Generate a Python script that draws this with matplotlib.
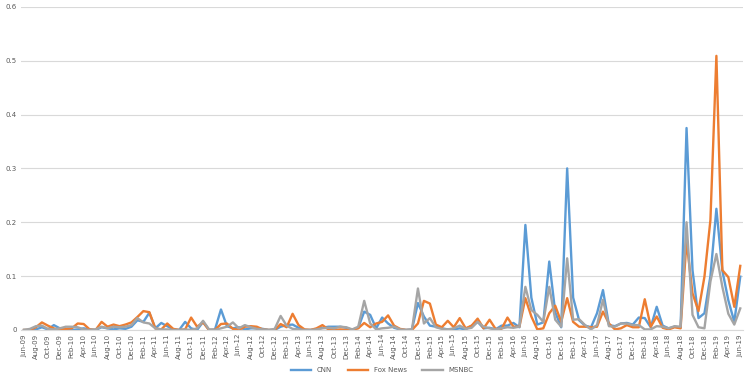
import matplotlib
matplotlib.use("Agg")
import matplotlib.pyplot as plt
import pandas as pd

# monthly share of coverage, Jun-09 .. Jun-19
months = pd.date_range("2009-06-01", periods=121, freq="MS").strftime("%b-%y").tolist()

cnn = [0, 0, 0.001, 0.005, 0.001, 0.009, 0.003, 0.001, 0, 0.001, 0.003, 0.001,
       0, 0.005, 0.003, 0.001, 0.003, 0.002, 0.006, 0.018, 0.015, 0.032, 0.003, 0.013,
       0.007, 0.001, 0, 0.015, 0.003, 0, 0.015, 0, 0.001, 0.038, 0.007, 0.003,
       0.005, 0.001, 0.003, 0.003, 0.002, 0, 0, 0.006, 0.009, 0.01, 0.004, 0,
       0, 0.001, 0.004, 0.006, 0.006, 0.006, 0.004, 0, 0.004, 0.034, 0.028, 0.003,
       0.023, 0.012, 0.004, 0.001, 0, 0.001, 0.05, 0.025, 0.008, 0.006, 0.003, 0.001,
       0.001, 0.003, 0.001, 0.008, 0.015, 0.003, 0.004, 0.001, 0.008, 0.008, 0.013, 0.005,
       0.195, 0.06, 0.01, 0.014, 0.127, 0.033, 0.005, 0.30, 0.06, 0.018, 0.008, 0.005,
       0.031, 0.074, 0.009, 0.007, 0.012, 0.013, 0.01, 0.023, 0.022, 0.005, 0.043, 0.008,
       0.003, 0.006, 0.004, 0.375, 0.111, 0.022, 0.031, 0.10, 0.225, 0.11, 0.055, 0.015,
       0.099]

fox = [0, 0, 0.005, 0.014, 0.008, 0.003, 0, 0.002, 0.003, 0.012, 0.011, 0.001,
       0, 0.015, 0.006, 0.01, 0.007, 0.01, 0.014, 0.024, 0.035, 0.033, 0.003, 0.001,
       0.012, 0.002, 0, 0.001, 0.023, 0.006, 0.014, 0, 0, 0.011, 0.012, 0.002,
       0, 0.006, 0.007, 0.006, 0.001, 0, 0, 0.011, 0.005, 0.03, 0.009, 0.001,
       0, 0.003, 0.009, 0.001, 0, 0.001, 0, 0.001, 0.003, 0.013, 0.005, 0.012,
       0.015, 0.027, 0.008, 0.002, 0, 0, 0.012, 0.054, 0.049, 0.01, 0.005, 0.017,
       0.005, 0.022, 0.003, 0.008, 0.021, 0.003, 0.019, 0.002, 0.002, 0.023, 0.006, 0.006,
       0.059, 0.025, 0.001, 0.003, 0.031, 0.045, 0.015, 0.059, 0.015, 0.006, 0.006, 0.005,
       0.006, 0.034, 0.012, 0.001, 0.003, 0.009, 0.005, 0.005, 0.057, 0.006, 0.025, 0.004,
       0.001, 0.005, 0.003, 0.165, 0.068, 0.035, 0.099, 0.204, 0.509, 0.111, 0.098, 0.043,
       0.119]

msnbc = [0, 0.002, 0.007, 0.008, 0.002, 0.001, 0.003, 0.006, 0.006, 0.005, 0.001, 0,
         0.001, 0.006, 0.003, 0.006, 0.005, 0.006, 0.009, 0.022, 0.014, 0.012, 0.003, 0.001,
         0.001, 0, 0, 0.001, 0, 0.003, 0.017, 0.001, 0, 0.003, 0.006, 0.014,
         0.003, 0.009, 0.005, 0.002, 0.001, 0, 0.002, 0.026, 0.008, 0.002, 0.001, 0,
         0, 0.001, 0.003, 0.004, 0.003, 0.006, 0.005, 0.001, 0.006, 0.054, 0.012, 0.001,
         0.003, 0.004, 0.006, 0.001, 0, 0.001, 0.077, 0.012, 0.022, 0.005, 0.002, 0.001,
         0.003, 0.008, 0.002, 0.004, 0.015, 0.006, 0.003, 0.001, 0.003, 0.005, 0.004, 0.006,
         0.08, 0.037, 0.028, 0.015, 0.08, 0.019, 0.006, 0.133, 0.019, 0.02, 0.009, 0.001,
         0.009, 0.056, 0.007, 0.006, 0.012, 0.012, 0.009, 0.009, 0.001, 0.001, 0.007, 0.006,
         0.003, 0.007, 0.006, 0.20, 0.028, 0.005, 0.003, 0.09, 0.141, 0.08, 0.03, 0.01,
         0.04]

y_ticks = [0, 0.1, 0.2, 0.3, 0.4, 0.5, 0.6]
y_labels = ["0", "0.1", "0.2", "0.3", "0.4", "0.5", "0.6"]


def main():
    fig = plt.figure(figsize=(7.5, 3.81), dpi=100)
    ax = fig.add_axes([0.028, 0.134, 0.963, 0.848])

    x = list(range(len(months)))
    ax.plot(x, cnn, color="#5B9BD5", lw=1.7, label="CNN", solid_joinstyle="round")
    ax.plot(x, fox, color="#ED7D31", lw=1.7, label="Fox News", solid_joinstyle="round")
    ax.plot(x, msnbc, color="#A5A5A5", lw=1.7, label="MSNBC", solid_joinstyle="round")

    ax.set_xlim(-0.5, len(months) - 0.5)
    ax.set_ylim(0, 0.6)
    ax.set_yticks(y_ticks)
    ax.set_yticklabels(y_labels)
    ax.set_xticks(x[::2])
    ax.set_xticklabels(months[::2], rotation=90)

    ax.grid(axis="y", color="#D9D9D9", lw=0.8)
    ax.set_axisbelow(True)
    for s in ["top", "right", "left"]:
        ax.spines[s].set_visible(False)
    ax.spines["bottom"].set_color("#D9D9D9")
    ax.tick_params(axis="both", length=0, labelsize=5, colors="#595959", pad=3)

    ax.legend(loc="center", bbox_to_anchor=(0.5, -0.124), ncol=3, frameon=False,
              fontsize=5, handlelength=3, columnspacing=2.2, labelcolor="#595959",
              borderpad=0.2)

    fig.savefig("out.png", dpi=100)


main()
